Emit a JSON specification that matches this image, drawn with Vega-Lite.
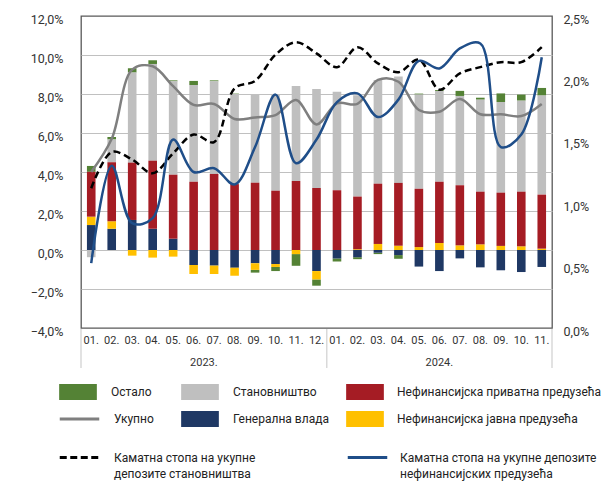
{
  "$schema": "https://vega.github.io/schema/vega-lite/v6.json",
  "width": 471,
  "height": 312,
  "autosize": {"type": "none"},
  "padding": {"left": 81, "top": 16, "right": 54, "bottom": 162},
  "config": {
    "font": "Roboto",
    "view": {"stroke": "#595959", "strokeWidth": 1.3},
    "axis": {"labelFont": "Roboto", "labelColor": "#333333", "domain": false, "ticks": false, "title": null},
    "legend": {"labelFont": "Roboto", "labelFontSize": 12, "labelColor": "#222222", "padding": 0, "labelLimit": 400},
    "text": {"font": "Roboto"}
  },
  "datasets": {
    "d": [
      {"m": "2023-01", "g": 1.28, "p": 0.43, "r": 2.30, "s": -0.37, "o": 0.30, "total": 4.00, "rhh": 1.12, "rcorp": 0.52},
      {"m": "2023-02", "g": 1.09, "p": 0.38, "r": 3.03, "s": 1.17, "o": 0.12, "total": 5.70, "rhh": 1.41, "rcorp": 1.30},
      {"m": "2023-03", "g": 1.54, "p": -0.29, "r": 2.94, "s": 4.62, "o": 0.22, "total": 9.25, "rhh": 1.35, "rcorp": 0.84},
      {"m": "2023-04", "g": 1.09, "p": -0.39, "r": 3.49, "s": 4.96, "o": 0.19, "total": 9.42, "rhh": 1.24, "rcorp": 0.88},
      {"m": "2023-05", "g": 0.58, "p": -0.34, "r": 3.28, "s": 4.79, "o": 0.05, "total": 8.40, "rhh": 1.40, "rcorp": 1.51},
      {"m": "2023-06", "g": -0.77, "p": -0.46, "r": 3.50, "s": 4.96, "o": 0.21, "total": 7.44, "rhh": 1.55, "rcorp": 1.25},
      {"m": "2023-07", "g": -0.80, "p": -0.43, "r": 3.90, "s": 4.75, "o": 0.05, "total": 7.49, "rhh": 1.49, "rcorp": 1.28},
      {"m": "2023-08", "g": -0.91, "p": -0.41, "r": 3.38, "s": 4.62, "o": 0.02, "total": 6.72, "rhh": 1.92, "rcorp": 1.15},
      {"m": "2023-09", "g": -0.68, "p": -0.34, "r": 3.45, "s": 4.52, "o": -0.14, "total": 6.80, "rhh": 1.98, "rcorp": 1.45},
      {"m": "2023-10", "g": -0.72, "p": -0.15, "r": 3.04, "s": 4.93, "o": -0.21, "total": 6.92, "rhh": 2.19, "rcorp": 1.87},
      {"m": "2023-11", "g": 0.00, "p": -0.21, "r": 3.54, "s": 4.87, "o": -0.60, "total": 7.69, "rhh": 2.29, "rcorp": 1.32},
      {"m": "2023-12", "g": -1.08, "p": -0.43, "r": 3.18, "s": 5.08, "o": -0.32, "total": 6.44, "rhh": 2.20, "rcorp": 1.51},
      {"m": "2024-01", "g": -0.44, "p": 0.00, "r": 3.06, "s": 5.06, "o": -0.15, "total": 7.52, "rhh": 2.09, "rcorp": 1.81},
      {"m": "2024-02", "g": -0.37, "p": 0.04, "r": 2.70, "s": 5.19, "o": -0.10, "total": 7.49, "rhh": 2.25, "rcorp": 1.88},
      {"m": "2024-03", "g": -0.14, "p": 0.31, "r": 3.09, "s": 5.32, "o": -0.07, "total": 8.72, "rhh": 2.12, "rcorp": 1.69},
      {"m": "2024-04", "g": -0.26, "p": 0.22, "r": 3.22, "s": 5.46, "o": -0.19, "total": 8.63, "rhh": 2.05, "rcorp": 1.83},
      {"m": "2024-05", "g": -0.85, "p": 0.15, "r": 2.99, "s": 4.83, "o": 0.05, "total": 7.18, "rhh": 2.15, "rcorp": 2.14},
      {"m": "2024-06", "g": -1.08, "p": 0.36, "r": 3.14, "s": 4.65, "o": 0.05, "total": 7.09, "rhh": 1.91, "rcorp": 2.08},
      {"m": "2024-07", "g": -0.43, "p": 0.24, "r": 3.08, "s": 4.58, "o": 0.26, "total": 7.74, "rhh": 2.04, "rcorp": 2.24},
      {"m": "2024-08", "g": -0.89, "p": 0.29, "r": 2.70, "s": 4.72, "o": 0.10, "total": 6.96, "rhh": 2.09, "rcorp": 2.28},
      {"m": "2024-09", "g": -1.04, "p": 0.21, "r": 2.73, "s": 4.65, "o": 0.44, "total": 6.96, "rhh": 2.13, "rcorp": 1.45},
      {"m": "2024-10", "g": -1.13, "p": 0.19, "r": 2.80, "s": 4.67, "o": 0.31, "total": 6.87, "rhh": 2.13, "rcorp": 1.55},
      {"m": "2024-11", "g": -0.87, "p": 0.07, "r": 2.77, "s": 5.08, "o": 0.39, "total": 7.49, "rhh": 2.25, "rcorp": 2.17}
    ]
  },
  "data": {"name": "d"},
  "layer": [
    {
      "transform": [
        {"fold": ["g", "p", "r", "s", "o"], "as": ["key", "v"]},
        {"calculate": "indexof(['g','p','r','s','o'], datum.key)", "as": "ord"},
        {"calculate": "{'g':'Генерална влада','p':'Нефинансијска јавна предузећа','r':'Нефинансијска приватна предузећа','s':'Становништво','o':'Остало'}[datum.key]", "as": "cat"},
        {"stack": "v", "groupby": ["m"], "sort": [{"field": "ord", "order": "ascending"}], "as": ["v0", "v1"]},
        {"filter": "datum.key === 'o'"}
      ],
      "mark": {"type": "bar", "width": {"band": 0.42}},
      "encoding": {
        "x": {"field": "m", "type": "ordinal", "scale": {"type": "band", "paddingInner": 0, "paddingOuter": 0}, "axis": {"labelExpr": "slice(datum.value, 5) + '.'", "labelFontSize": 11, "labelPadding": 6, "labelAngle": 0}},
        "y": {"field": "v1", "type": "quantitative", "scale": {"domain": [-4, 12], "nice": false},
          "axis": {"orient": "left", "values": [-4, -2, 0, 2, 4, 6, 8, 10, 12], "labelExpr": "replace(format(datum.value, '.1f'), '.', ',') + '%'", "labelFontSize": 12.5, "labelPadding": 18, "labelOffset": 3, "grid": true, "gridColor": {"condition": {"test": "datum.value === 12 || datum.value === -4", "value": "transparent"}, "value": "#c0c0c0"}, "gridWidth": 1.2}},
        "y2": {"field": "v0"},
        "fill": {"field": "cat", "type": "nominal", "scale": {"domain": ["Остало"], "range": ["#548235"]},
          "legend": {"title": null, "orient": "none", "legendX": -22, "legendY": 357, "symbolType": "M-1,-0.424H1V0.424H-1Z", "symbolSize": 1421, "symbolStrokeWidth": 0, "labelOffset": 14}}
      }
    },
    {
      "transform": [
        {"fold": ["g", "p", "r", "s", "o"], "as": ["key", "v"]},
        {"calculate": "indexof(['g','p','r','s','o'], datum.key)", "as": "ord"},
        {"calculate": "{'g':'Генерална влада','p':'Нефинансијска јавна предузећа','r':'Нефинансијска приватна предузећа','s':'Становништво','o':'Остало'}[datum.key]", "as": "cat"},
        {"stack": "v", "groupby": ["m"], "sort": [{"field": "ord", "order": "ascending"}], "as": ["v0", "v1"]},
        {"filter": "datum.key === 's' || datum.key === 'g'"}
      ],
      "mark": {"type": "bar", "width": {"band": 0.42}},
      "encoding": {
        "x": {"field": "m", "type": "ordinal", "scale": {"type": "band", "paddingInner": 0, "paddingOuter": 0}, "axis": {"labelExpr": "slice(datum.value, 5) + '.'", "labelFontSize": 11, "labelPadding": 6, "labelAngle": 0}},
        "y": {"field": "v1", "type": "quantitative", "scale": {"domain": [-4, 12], "nice": false}, "axis": null},
        "y2": {"field": "v0"},
        "fill": {"field": "cat", "type": "nominal", "scale": {"domain": ["Становништво", "Генерална влада"], "range": ["#bfbfbf", "#1f3864"]},
          "legend": {"title": null, "orient": "none", "legendX": 100, "legendY": 357, "direction": "vertical", "rowPadding": -2, "symbolType": "M-1,-0.424H1V0.424H-1Z", "symbolSize": 1421, "symbolStrokeWidth": 0, "labelOffset": 14}}
      }
    },
    {
      "transform": [
        {"fold": ["g", "p", "r", "s", "o"], "as": ["key", "v"]},
        {"calculate": "indexof(['g','p','r','s','o'], datum.key)", "as": "ord"},
        {"calculate": "{'g':'Генерална влада','p':'Нефинансијска јавна предузећа','r':'Нефинансијска приватна предузећа','s':'Становништво','o':'Остало'}[datum.key]", "as": "cat"},
        {"stack": "v", "groupby": ["m"], "sort": [{"field": "ord", "order": "ascending"}], "as": ["v0", "v1"]},
        {"filter": "datum.key === 'r' || datum.key === 'p'"}
      ],
      "mark": {"type": "bar", "width": {"band": 0.42}},
      "encoding": {
        "x": {"field": "m", "type": "ordinal", "scale": {"type": "band", "paddingInner": 0, "paddingOuter": 0}, "axis": {"labelExpr": "slice(datum.value, 5) + '.'", "labelFontSize": 11, "labelPadding": 6, "labelAngle": 0}},
        "y": {"field": "v1", "type": "quantitative", "scale": {"domain": [-4, 12], "nice": false}, "axis": null},
        "y2": {"field": "v0"},
        "fill": {"field": "cat", "type": "nominal", "scale": {"domain": ["Нефинансијска приватна предузећа", "Нефинансијска јавна предузећа"], "range": ["#a51c24", "#ffc000"]},
          "legend": {"title": null, "orient": "none", "legendX": 265, "legendY": 357, "direction": "vertical", "rowPadding": -2, "symbolType": "M-1,-0.424H1V0.424H-1Z", "symbolSize": 1421, "symbolStrokeWidth": 0, "labelOffset": 13}}
      }
    },
    {
      "mark": {"type": "line", "interpolate": "catmull-rom", "strokeWidth": 2.5},
      "encoding": {
        "x": {"field": "m", "type": "ordinal", "scale": {"type": "band", "paddingInner": 0, "paddingOuter": 0}, "axis": {"labelExpr": "slice(datum.value, 5) + '.'", "labelFontSize": 11, "labelPadding": 6, "labelAngle": 0}},
        "y": {"field": "total", "type": "quantitative", "scale": {"domain": [-4, 12], "nice": false}, "axis": null},
        "stroke": {"datum": "Укупно", "type": "nominal", "scale": {"range": ["#7f7f7f"]},
          "legend": {"title": null, "orient": "none", "legendX": -23, "legendY": 381.5, "symbolType": "stroke", "symbolSize": 1560, "symbolStrokeWidth": 3, "labelOffset": 13}}
      }
    },
    {
      "mark": {"type": "line", "interpolate": "catmull-rom", "strokeWidth": 2.5, "strokeDash": [7, 4]},
      "encoding": {
        "x": {"field": "m", "type": "ordinal", "scale": {"type": "band", "paddingInner": 0, "paddingOuter": 0}, "axis": {"labelExpr": "slice(datum.value, 5) + '.'", "labelFontSize": 11, "labelPadding": 6, "labelAngle": 0}},
        "y": {"field": "rhh", "type": "quantitative", "scale": {"domain": [0, 2.5], "nice": false},
          "axis": {"orient": "right", "values": [0, 0.5, 1, 1.5, 2, 2.5], "labelExpr": "replace(format(datum.value, '.1f'), '.', ',') + '%'", "labelFontSize": 12.5, "labelPadding": 11, "labelOffset": 3, "grid": false}},
        "stroke": {"datum": "Каматна стопа на  укупне|депозите становништва", "type": "nominal", "scale": {"range": ["#000000"]},
          "legend": {"title": null, "orient": "none", "legendX": -23, "legendY": 420, "symbolType": "stroke", "symbolSize": 1560, "symbolStrokeWidth": 3, "symbolDash": [7, 3.5], "labelOffset": 13, "labelExpr": "split(datum.label, '|')", "encode": {"labels": {"update": {"lineHeight": {"value": 16}}}}}}
      }
    },
    {
      "mark": {"type": "line", "interpolate": "catmull-rom", "strokeWidth": 2.5},
      "encoding": {
        "x": {"field": "m", "type": "ordinal", "scale": {"type": "band", "paddingInner": 0, "paddingOuter": 0}, "axis": {"labelExpr": "slice(datum.value, 5) + '.'", "labelFontSize": 11, "labelPadding": 6, "labelAngle": 0}},
        "y": {"field": "rcorp", "type": "quantitative", "scale": {"domain": [0, 2.5], "nice": false}, "axis": null},
        "stroke": {"datum": "Каматна стопа на  укупне депозите|нефинансијских предузећа", "type": "nominal", "scale": {"range": ["#1f4e89"]},
          "legend": {"title": null, "orient": "none", "legendX": 265, "legendY": 420, "symbolType": "stroke", "symbolSize": 1560, "symbolStrokeWidth": 3, "labelOffset": 11, "labelExpr": "split(datum.label, '|')", "encode": {"labels": {"update": {"lineHeight": {"value": 16}}}}}}
      }
    },
    {
      "data": {"values": [{"m": "2023-01"}, {"m": "2024-01"}]},
      "mark": {"type": "rule", "color": "#d9d9d9", "strokeWidth": 1.5},
      "encoding": {
        "x": {"field": "m", "type": "ordinal", "bandPosition": 0, "scale": {"type": "band", "paddingInner": 0, "paddingOuter": 0}, "axis": {"labelExpr": "slice(datum.value, 5) + '.'", "labelFontSize": 11, "labelPadding": 6, "labelAngle": 0}},
        "y": {"datum": -4.05, "type": "quantitative", "scale": {"domain": [-4, 12], "nice": false}, "axis": null},
        "y2": {"datum": -6.05}
      }
    },
    {
      "data": {"values": [{"m": "2024-11"}]},
      "mark": {"type": "rule", "color": "#d9d9d9", "strokeWidth": 1.5},
      "encoding": {
        "x": {"field": "m", "type": "ordinal", "bandPosition": 1, "scale": {"type": "band", "paddingInner": 0, "paddingOuter": 0}, "axis": {"labelExpr": "slice(datum.value, 5) + '.'", "labelFontSize": 11, "labelPadding": 6, "labelAngle": 0}},
        "y": {"datum": -4.05, "type": "quantitative", "scale": {"domain": [-4, 12], "nice": false}, "axis": null},
        "y2": {"datum": -6.05}
      }
    },
    {
      "data": {"values": [{"m": "2023-06", "t": "2023."}]},
      "mark": {"type": "text", "fontSize": 11, "color": "#333333", "baseline": "middle"},
      "encoding": {
        "x": {"field": "m", "type": "ordinal", "bandPosition": 1, "scale": {"type": "band", "paddingInner": 0, "paddingOuter": 0}, "axis": {"labelExpr": "slice(datum.value, 5) + '.'", "labelFontSize": 11, "labelPadding": 6, "labelAngle": 0}},
        "y": {"datum": -5.78, "type": "quantitative", "scale": {"domain": [-4, 12], "nice": false}, "axis": null},
        "text": {"field": "t"}
      }
    },
    {
      "data": {"values": [{"m": "2024-06", "t": "2024."}]},
      "mark": {"type": "text", "fontSize": 11, "color": "#333333", "baseline": "middle"},
      "encoding": {
        "x": {"field": "m", "type": "ordinal", "bandPosition": 0.5, "scale": {"type": "band", "paddingInner": 0, "paddingOuter": 0}, "axis": {"labelExpr": "slice(datum.value, 5) + '.'", "labelFontSize": 11, "labelPadding": 6, "labelAngle": 0}},
        "y": {"datum": -5.78, "type": "quantitative", "scale": {"domain": [-4, 12], "nice": false}, "axis": null},
        "text": {"field": "t"}
      }
    }
  ],
  "resolve": {
    "scale": {"y": "independent", "fill": "independent", "stroke": "independent"},
    "legend": {"fill": "independent", "stroke": "independent"}
  }
}
